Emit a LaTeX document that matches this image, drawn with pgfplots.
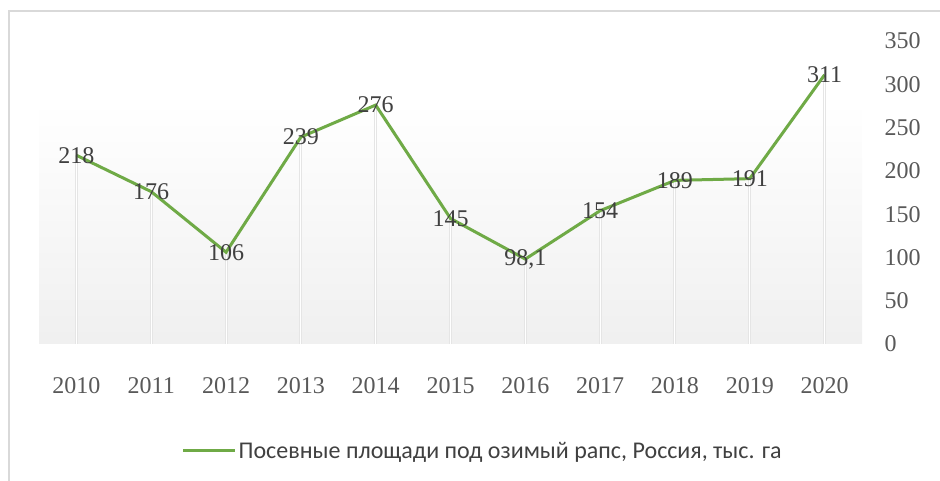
\documentclass[border=0pt]{standalone}
\usepackage{fontspec}
\setmainfont{Carlito}
\newfontfamily\numfont{Liberation Serif}
\usepackage{pgfplots}
\pgfplotsset{compat=1.18}
\usetikzlibrary{shadings}
\definecolor{lgreen}{HTML}{6FAA46}
\definecolor{tickgray}{HTML}{595959}
\definecolor{labgray}{HTML}{404040}
\pgfplotstableread{
x y lab
0 218 218
1 176 176
2 106 106
3 239 239
4 276 276
5 145 145
6 98.1 98,1
7 154 154
8 189 189
9 191 191
10 311 311
}\datatab
\begin{document}
\begin{tikzpicture}[x=1pt,y=1pt]
\path[use as bounding box] (0,0) rectangle (940,481);
\draw[black!15, line width=1.5pt] (9,-5) -- (9,470) -- (945,470);
\begin{axis}[
  at={(39pt,137pt)}, anchor=south west,
  scale only axis, width=823pt, height=303pt,
  xmin=-0.5, xmax=10.5, ymin=0, ymax=350,
  xtick={0,...,10},
  xticklabels={2010,2011,2012,2013,2014,2015,2016,2017,2018,2019,2020},
  ytick={0,50,...,350},
  axis x line*=bottom, axis y line*=right,
  x axis line style={draw=black!18, line width=1pt, -},
  y axis line style={draw=none},
  major tick length=0pt,
  tick label style={font=\fontsize{24}{24}\selectfont\numfont, text=tickgray},
  /pgf/number format/assume math mode=true,
  xticklabel style={yshift=-30pt},
  yticklabel style={anchor=west, xshift=19pt},
  clip=false,
  legend style={at={(0.539,-0.353)}, anchor=center, draw=none, fill=none,
    font=\fontsize{24}{24}\selectfont, text=labgray, inner sep=0pt},
  legend image code/.code={\draw[lgreen, line width=3pt] (0pt,0pt) -- (52pt,0pt);},
]
\path[shade, top color=white, bottom color=black!6] (axis cs:-0.5,0) rectangle (axis cs:10.5,280);
\addplot[ycomb, draw=black!10, line width=3pt, no marks, forget plot] table[x=x,y=y] {\datatab};
\addplot[ycomb, draw=white, line width=1pt, no marks, forget plot] table[x=x,y=y] {\datatab};
\addplot[lgreen, line width=3pt, no marks,
  nodes near coords, point meta=explicit symbolic,
  nodes near coords style={anchor=center, font=\fontsize{24}{24}\selectfont\numfont, text=labgray}]
  table[x=x,y=y,meta=lab] {\datatab};
\addlegendentry{Посевные площади под озимый рапс, Россия, тыс. га}
\end{axis}
\end{tikzpicture}
\end{document}
